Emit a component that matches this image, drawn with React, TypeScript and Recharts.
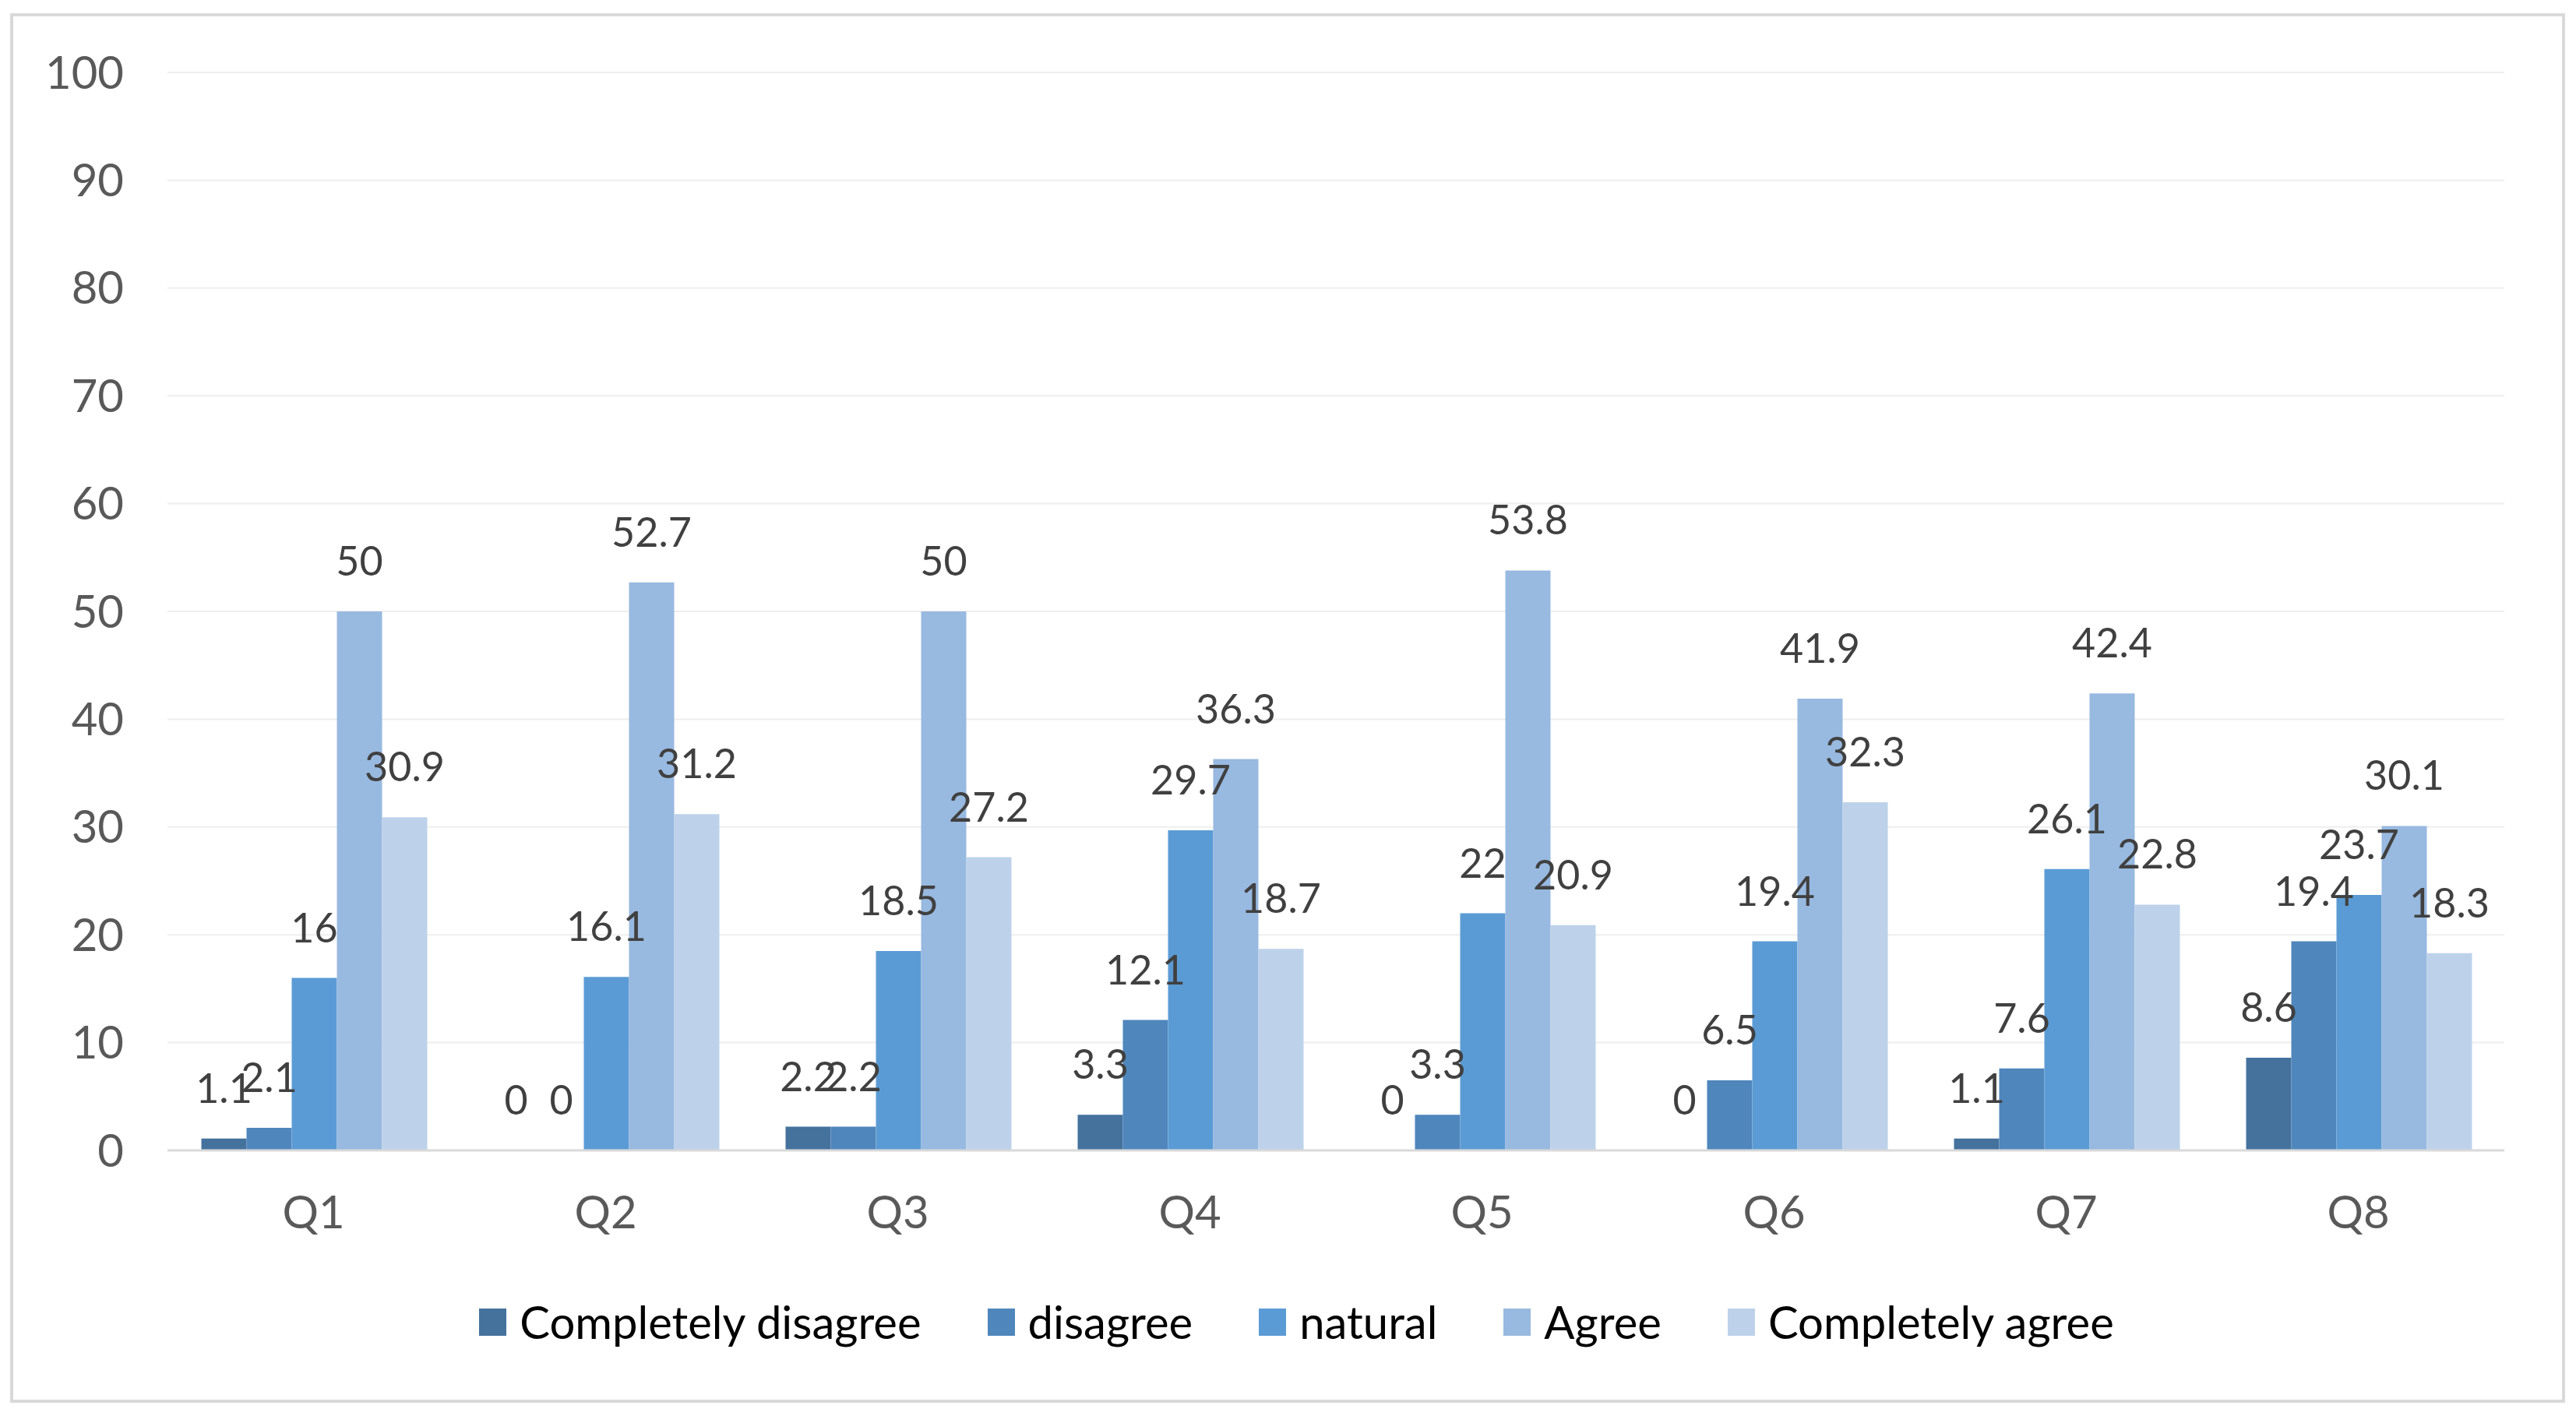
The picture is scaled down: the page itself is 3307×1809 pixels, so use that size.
import React from 'react'
import { BarChart, Bar, XAxis, YAxis, CartesianGrid, Legend, LabelList } from 'recharts'

const questions = ['Q1', 'Q2', 'Q3', 'Q4', 'Q5', 'Q6', 'Q7', 'Q8']

const completelyDisagree = [1.1, 0, 2.2, 3.3, 0, 0, 1.1, 8.6]
const disagree = [2.1, 0, 2.2, 12.1, 3.3, 6.5, 7.6, 19.4]
const natural = [16, 16.1, 18.5, 29.7, 22, 19.4, 26.1, 23.7]
const agree = [50, 52.7, 50, 36.3, 53.8, 41.9, 42.4, 30.1]
const completelyAgree = [30.9, 31.2, 27.2, 18.7, 20.9, 32.3, 22.8, 18.3]

const yTicks = [0, 10, 20, 30, 40, 50, 60, 70, 80, 90, 100]

const series = [
  { key: 'Completely disagree', values: completelyDisagree, color: '#44729D' },
  { key: 'disagree', values: disagree, color: '#4F86BC' },
  { key: 'natural', values: natural, color: '#5B9BD5' },
  { key: 'Agree', values: agree, color: '#98B9E0' },
  { key: 'Completely agree', values: completelyAgree, color: '#BDD2EA' },
]

const data = questions.map((q, i) => {
  const row: { [key: string]: string | number } = { name: q }
  series.forEach((s) => {
    row[s.key] = s.values[i]
  })
  return row
})

const FONT = 'Lato, "Open Sans", sans-serif'

// zero-height bars are dropped from the label list, so give them a hairline height
const zeroBarSize = (value: any) => (Number(value) === 0 ? 0.01 : 0)

const ValueLabel = (props: any) => {
  const { x, y, width, height, value } = props
  if (value === undefined || value === null) return null
  // for the hairline zero bars, anchor on the baseline
  const top = Number(value) === 0 ? Number(y) + Number(height) : Number(y)
  return (
    <text
      x={Number(x) + Number(width) / 2}
      y={top - 46}
      textAnchor="middle"
      fill="#404040"
      fontSize={52}
      fontFamily={FONT}
    >
      {value}
    </text>
  )
}

const LegendContent = () => (
  <div
    style={{
      display: 'flex',
      justifyContent: 'center',
      alignItems: 'center',
      height: 60,
      paddingLeft: 22,
      fontFamily: FONT,
      fontSize: 58,
      color: '#000',
    }}
  >
    {series.map((s, i) => (
      <div
        key={s.key}
        style={{ display: 'flex', alignItems: 'center', marginLeft: i === 0 ? 0 : 85 }}
      >
        <span style={{ width: 35, height: 35, background: s.color, marginRight: 17 }} />
        <span style={{ lineHeight: '60px', whiteSpace: 'nowrap' }}>{s.key}</span>
      </div>
    ))}
  </div>
)

export default function App() {
  return (
    <div style={{ position: 'relative', width: 3307, height: 1809, background: '#fff' }}>
      <style>{'body{margin:0}'}</style>
      <BarChart
        width={3307}
        height={1809}
        data={data}
        margin={{ top: 93, right: 92, left: 0, bottom: 82 }}
        barCategoryGap="11.6%"
        barGap={0}
      >
        <CartesianGrid vertical={false} stroke="#EEEEEE" strokeWidth={2} />
        <XAxis
          dataKey="name"
          height={190}
          axisLine={{ stroke: '#D9D9D9', strokeWidth: 3 }}
          tickLine={false}
          tickSize={0}
          tickMargin={59}
          tick={{ fill: '#595959', fontSize: 58, fontFamily: FONT }}
        />
        <YAxis
          width={215}
          domain={[0, 100]}
          ticks={yTicks}
          axisLine={false}
          tickLine={false}
          tickSize={0}
          tickMargin={56}
          tick={{ fill: '#595959', fontSize: 58, fontFamily: FONT }}
        />
        <Legend
          verticalAlign="bottom"
          content={<LegendContent />}
          wrapperStyle={{ left: 0, width: 3307, top: 1667, bottom: 'auto' }}
        />
        {series.map((s) => (
          <Bar
            key={s.key}
            dataKey={s.key}
            fill={s.color}
            minPointSize={zeroBarSize}
            isAnimationActive={false}
          >
            <LabelList dataKey={s.key} content={ValueLabel} />
          </Bar>
        ))}
      </BarChart>
      <div
        style={{
          position: 'absolute',
          left: 13,
          top: 17,
          width: 3280,
          height: 1784,
          border: '4px solid #D9D9D9',
          boxSizing: 'border-box',
          pointerEvents: 'none',
        }}
      />
    </div>
  )
}
